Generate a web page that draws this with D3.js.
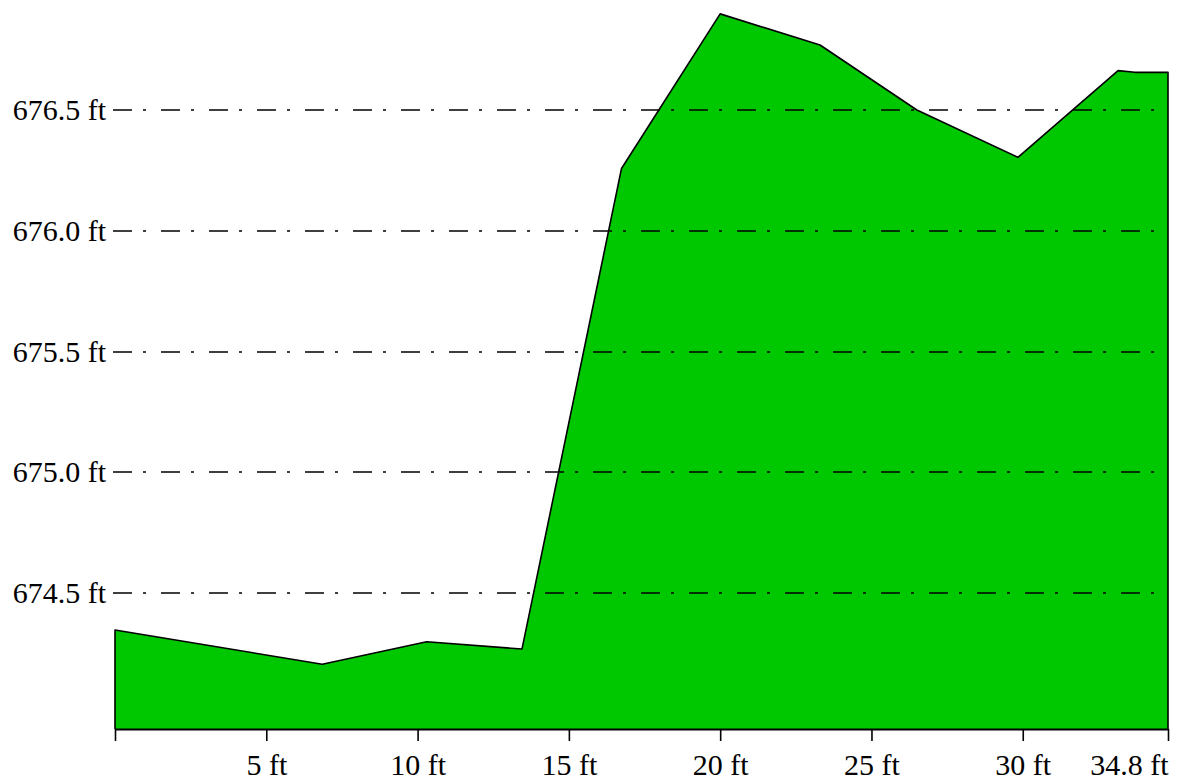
<!DOCTYPE html>
<html>
<head>
<meta charset="utf-8">
<script src="https://cdn.jsdelivr.net/npm/d3@7/dist/d3.min.js"></script>
<style>
  html, body { margin: 0; padding: 0; background: #ffffff; }
  svg { display: block; }
  text { font-family: "Liberation Serif", "Times New Roman", serif; fill: #000; }
</style>
</head>
<body>
<svg id="chart" width="1179" height="784"></svg>
<script>
// Distance along profile (ft)
const distances = [0, 6.85, 10.3, 13.45, 16.74, 20.0, 23.3, 26.5, 29.84, 33.15, 33.7, 34.8];
// Elevation (ft)
const elevations = [674.347, 674.205, 674.298, 674.268, 676.258, 676.898, 676.769, 676.50, 676.304, 676.663, 676.656, 676.656];

const xTickValues = [0, 5, 10, 15, 20, 25, 30, 34.8];
const xTickLabels = ["", "5 ft", "10 ft", "15 ft", "20 ft", "25 ft", "30 ft", "34.8 ft"];
const yTickValues = [674.5, 675.0, 675.5, 676.0, 676.5];
const yTickLabels = ["674.5 ft", "675.0 ft", "675.5 ft", "676.0 ft", "676.5 ft"];
const yDomain = [673.937, 676.9];

const svg = d3.select("#chart");
const plotLeft = 115, plotRight = 1168, plotBottom = 729, plotTop = 13.4;

const x = d3.scaleLinear().domain([0, 34.8]).range([plotLeft, plotRight]);
const y = d3.scaleLinear().domain(yDomain).range([plotBottom, plotTop]);

const data = distances.map((d, i) => ({ d, e: elevations[i] }));

// Area fill
const area = d3.area()
  .x(p => x(p.d))
  .y0(y(yDomain[0]))
  .y1(p => y(p.e))
  .curve(d3.curveLinear);

svg.append("path")
  .datum(data)
  .attr("d", area)
  .attr("fill", "#00c800")
  .attr("stroke", "none");

// Outline: left edge, profile, right edge
const outline = [{ d: 0, e: yDomain[0] }, ...data, { d: 34.8, e: yDomain[0] }];
const line = d3.line().x(p => x(p.d)).y(p => y(p.e));
svg.append("path")
  .datum(outline)
  .attr("d", line)
  .attr("fill", "none")
  .attr("stroke", "#000")
  .attr("stroke-width", 1.6)
  .attr("stroke-linejoin", "round");

// Gridlines (dash-dot) over the area
const grid = svg.append("g");
grid.selectAll("line")
  .data(yTickValues)
  .enter().append("line")
  .attr("x1", 113)
  .attr("x2", 1160)
  .attr("y1", d => Math.round(y(d)))
  .attr("y2", d => Math.round(y(d)))
  .attr("stroke", "#000")
  .attr("stroke-width", 1.6)
  .attr("stroke-dasharray", "19,11,3,15");

// Y labels
svg.append("g").selectAll("text")
  .data(yTickValues)
  .enter().append("text")
  .attr("x", 106)
  .attr("y", d => Math.round(y(d)) + 10)
  .attr("text-anchor", "end")
  .attr("font-size", 30)
  .text((d, i) => yTickLabels[i]);

// X axis
const xAxis = d3.axisBottom(x)
  .tickValues(xTickValues)
  .tickSize(12)
  .tickSizeOuter(0)
  .tickFormat((d, i) => xTickLabels[i]);

const gx = svg.append("g")
  .attr("transform", `translate(0,${plotBottom})`)
  .call(xAxis);
gx.select(".domain").attr("stroke", "#000").attr("stroke-width", 2);
gx.selectAll(".tick line").attr("stroke", "#000").attr("stroke-width", 1.6);
gx.selectAll(".tick text")
  .attr("font-size", 30)
  .attr("font-family", "Liberation Serif, serif")
  .attr("fill", "#000")
  .attr("y", 46)
  .attr("dy", 0)
  .attr("text-anchor", (d, i) => i === xTickValues.length - 1 ? "end" : "middle");
</script>
</body>
</html>
